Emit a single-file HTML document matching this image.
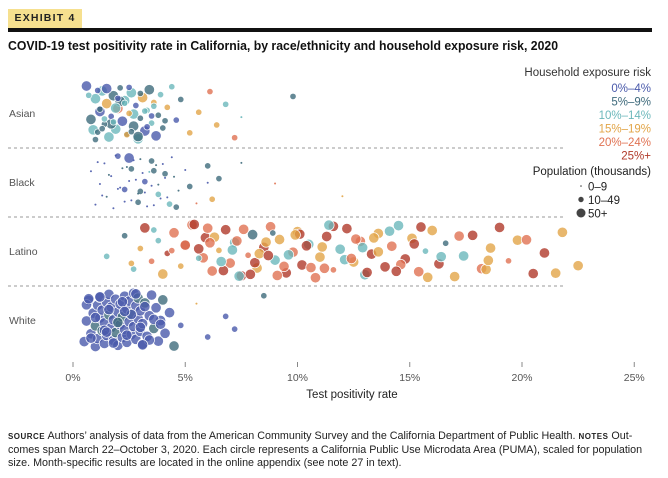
<!DOCTYPE html>
<html><head><meta charset="utf-8">
<style>
body{margin:0;background:#fff;font-family:"Liberation Sans",sans-serif;}
#wrap{position:relative;width:668px;height:478px;overflow:hidden;}
.badge{position:absolute;left:8px;top:9px;width:74px;height:19px;background:#f6e08f;font:bold 10.5px "Liberation Sans",sans-serif;letter-spacing:1.2px;line-height:19px;text-align:center;color:#222;}
.bar{position:absolute;left:8px;top:28px;width:644px;height:4px;background:#111;}
.title{position:absolute;left:8px;top:39px;font:bold 12.5px "Liberation Sans",sans-serif;color:#111;white-space:nowrap;transform:scaleX(0.98);transform-origin:left top;}
.src{position:absolute;left:8px;top:430px;font:10.8px "Liberation Sans",sans-serif;line-height:13.5px;color:#222;white-space:nowrap;transform:scaleX(0.995);transform-origin:left top;}
.src b{font-size:8px;letter-spacing:.5px;}
</style></head><body>
<div id="wrap">
<div class="badge">EXHIBIT 4</div>
<div class="bar"></div>
<div class="title">COVID-19 test positivity rate in California, by race/ethnicity and household exposure risk, 2020</div>
<svg id="svg" width="668" height="478" style="position:absolute;left:0;top:0"></svg>
<div class="src"><b>SOURCE</b> Authors’ analysis of data from the American Community Survey and the California Department of Public Health. <b>NOTES</b> Out-<br>comes span March 22–October 3, 2020. Each circle represents a California Public Use Microdata Area (PUMA), scaled for population<br>size. Month-specific results are located in the online appendix (see note 27 in text).</div>
</div>
<script>
const groups=["Asian","Black","Latino","White"];
const riskLabels=["0%–4%","5%–9%","10%–14%","15%–19%","20%–24%","25%+"];
const sizeLabels=["0–9","10–49","50+"];
const xTicks=[0,5,10,15,20,25];
const asianVals=[0.6,0.8,1.0,1.1,1.2,1.3,1.4,1.5,1.6,1.7,1.8,1.9,2.0,2.1,2.2,2.3,2.4,2.5,2.6,2.7,2.8,2.9,3.0,3.1,3.2,3.3,3.4,3.5,3.6,3.7,3.8,3.9,4.0,4.2,4.4,4.6,4.8,5.2,5.6,6.1,6.4,6.8,7.2,7.5,9.8,0.9,1.2,1.5,1.8,2.1,2.4,2.7,3.0,3.3,3.6,1.0,1.4,2.0,2.6,3.2,1.1,1.7,2.3,2.9,3.5,0.7,1.3,1.9,2.5,4.1];
const asianRisk=[0,1,2,1,0,2,1,3,2,0,1,2,4,1,0,2,1,3,2,1,0,2,1,3,0,2,1,2,3,0,1,2,1,3,2,0,1,3,3,4,3,2,4,2,1,2,1,0,2,1,3,2,1,0,2,1,2,0,1,2,0,1,2,1,0,2,1,2,0,1];
const asianSize=[2,2,2,1,2,2,1,2,2,1,2,2,2,1,2,2,1,1,2,2,1,2,1,2,2,1,2,1,1,2,1,1,1,1,1,1,1,1,1,1,1,1,1,0,1,2,1,2,1,2,1,2,1,1,1,1,1,1,1,1,1,2,1,2,1,1,1,2,1,1];
const blackVals=[0.8,1.0,1.2,1.4,1.5,1.7,1.9,2.0,2.2,2.3,2.5,2.7,2.9,3.1,3.3,3.5,3.7,3.9,4.1,4.4,4.7,5.0,5.5,6.0,1.1,1.3,1.6,1.8,2.1,2.4,2.6,2.8,3.0,3.2,3.4,3.6,3.8,4.0,4.2,4.5,2.0,2.3,2.6,2.9,3.2,3.5,3.8,4.1,4.6,5.2,6.0,6.2,6.5,2.5,3.0,3.6,4.3,9.0,7.5,12.0];
const blackRisk=[0,0,0,0,1,0,0,0,1,0,0,0,1,0,0,0,1,0,0,0,1,0,4,0,0,0,1,0,0,1,0,0,1,0,2,0,1,0,0,1,0,0,1,1,0,1,2,1,1,1,1,3,1,0,1,1,2,4,1,3];
const blackSize=[0,0,0,0,0,0,0,0,0,0,0,0,0,0,0,0,0,0,0,0,0,0,0,0,0,0,0,0,0,0,0,0,0,0,0,0,0,0,0,0,1,1,1,1,1,1,1,1,1,1,1,1,1,2,1,1,1,0,0,0];
const latinoVals=[1.5,2.3,2.7,3.0,3.2,3.5,3.8,4.0,4.2,4.5,4.8,5.0,5.3,5.6,5.9,6.2,6.5,6.8,7.0,7.2,7.5,7.8,8.0,8.2,8.5,8.8,9.0,9.2,9.5,9.8,10.0,10.2,10.5,10.8,11.0,11.3,11.6,11.9,12.2,12.5,12.8,13.0,13.3,13.6,13.9,14.2,14.5,14.8,15.1,15.4,15.7,16.0,16.3,16.6,17.0,17.4,17.8,18.2,18.6,19.0,19.4,19.8,20.5,21.0,21.8,22.5,5.0,5.4,5.8,6.3,6.7,7.1,7.6,8.1,8.6,9.1,9.6,10.1,10.6,11.1,11.6,12.1,12.6,13.1,13.6,14.1,14.6,15.2,15.8,16.4,17.2,18.4,5.6,6.0,6.6,7.3,7.9,8.3,8.9,9.4,10.4,11.4,12.4,13.4,14.4,4.4,3.6,2.6,6.1,7.4,8.7,9.9,11.2,12.9,15.5,18.5,20.2,21.5];
const latinoRisk=[2,1,2,3,5,4,2,3,5,4,3,5,4,2,5,4,3,5,4,2,5,4,1,3,5,4,2,3,5,4,3,5,2,4,3,5,4,2,5,3,4,2,5,3,5,4,2,5,3,4,2,3,5,1,3,2,5,4,3,5,4,3,5,5,3,3,4,5,4,3,5,2,4,5,3,4,2,5,4,3,5,2,4,5,3,2,4,5,3,2,4,3,5,4,2,4,5,3,1,4,5,2,4,3,5,4,2,3,4,2,5,3,4,2,5,3,4,3];
const latinoSize=[1,1,1,1,2,1,1,2,1,2,1,2,2,1,2,2,1,2,2,2,2,1,2,2,2,2,2,2,2,2,2,2,2,2,2,2,1,2,2,2,2,2,2,2,2,2,2,2,2,2,1,2,2,1,2,2,2,2,2,2,1,2,2,2,2,2,2,2,2,2,2,2,2,2,2,2,2,2,2,2,2,2,2,2,2,2,2,2,2,2,2,2,2,2,2,2,2,2,1,2,2,2,2,2,2,1,1,1,2,2,2,2,2,2,2,2,2,2];
const whiteVals=[0.5,0.6,0.7,0.8,0.9,1.0,1.0,1.1,1.1,1.2,1.2,1.3,1.3,1.4,1.4,1.5,1.5,1.6,1.6,1.7,1.7,1.8,1.8,1.9,1.9,2.0,2.0,2.1,2.1,2.2,2.2,2.3,2.3,2.4,2.4,2.5,2.5,2.6,2.6,2.7,2.7,2.8,2.8,2.9,2.9,3.0,3.0,3.1,3.1,3.2,3.3,3.4,3.5,3.6,3.7,3.8,3.9,4.0,4.1,4.3,4.5,4.8,0.6,0.8,1.0,1.2,1.4,1.6,1.8,2.0,2.2,2.4,2.6,2.8,3.0,3.2,3.4,3.6,0.7,1.5,2.3,3.1,3.9,5.5,6.0,6.8,8.5,7.2];
const whiteRisk=[0,0,0,0,0,0,1,0,0,0,0,1,0,0,0,0,0,1,0,0,0,0,0,0,1,0,0,0,0,0,1,0,0,0,0,0,0,0,1,0,0,0,0,0,1,0,0,0,0,1,0,0,0,1,0,0,0,1,0,0,1,0,0,0,0,0,0,0,0,1,0,0,0,0,0,0,0,0,0,0,0,0,0,3,0,0,1,0];
const whiteSize=[2,2,2,2,2,2,2,2,2,2,2,2,2,2,2,2,2,2,2,2,2,2,2,2,2,2,2,2,2,2,2,2,2,2,2,2,2,2,2,2,2,2,2,2,2,2,2,2,2,2,2,2,2,2,2,2,2,2,2,2,2,1,2,2,2,2,2,2,2,2,2,2,2,2,2,2,2,2,2,2,2,2,2,0,1,1,1,1];

const colors=["#4a5aab","#3f6b7c","#6cb8bb","#e2a548","#e07252","#b03a2a"];
const radii=[1,3.2,5.2];
const svg=document.getElementById('svg');
const NS="http://www.w3.org/2000/svg";
const FF='Liberation Sans, sans-serif';
const x=v=>73+v*22.45;
const rowY=i=>113+i*69;
function mk(tag,attrs,parent){const e=document.createElementNS(NS,tag);for(const k in attrs)e.setAttribute(k,attrs[k]);(parent||svg).appendChild(e);return e;}

[0,1,2].forEach(i=>{
  const l=mk('line',{x1:8,x2:563,y1:rowY(i)+35,y2:rowY(i)+35,stroke:'#999','stroke-width':1,'stroke-dasharray':'3,3'});
  
  
});
groups.forEach((g,i)=>{
  const t=mk('text',{x:9,y:rowY(i)+4,'font-size':10.5,fill:'#555','font-family':FF});
  t.textContent=g;
  
  
});
xTicks.forEach(v=>{
  const tk=mk('line',{x1:x(v),x2:x(v),y1:362,y2:367,stroke:'#888'});
  
  
  const t=mk('text',{x:x(v),y:381,'font-size':10.5,fill:'#555','text-anchor':'middle','font-family':FF});
  t.textContent=v+'%';
  
  
});
const at=mk('text',{x:352,y:398,'font-size':11.5,fill:'#222','text-anchor':'middle','font-family':FF});
at.textContent='Test positivity rate';



const data=[[asianVals,asianRisk,asianSize],[blackVals,blackRisk,blackSize],[latinoVals,latinoRisk,latinoSize],[whiteVals,whiteRisk,whiteSize]];
data.forEach((d,gi)=>{
  const [vals,risk,size]=d;
  const order=vals.map((v,i)=>i).sort((a,b)=>size[b]-size[a]);
  order.forEach(i=>{
    const off=(((i*0.618034+gi*0.3)%1)-0.5)*54;
    const c=mk('circle',{cx:x(vals[i]),cy:rowY(gi)+off,r:radii[size[i]],fill:colors[risk[i]],'fill-opacity':size[i]?0.8:0.9,stroke:size[i]?'#fff':'none','stroke-width':0.7});
    
    
  });
});

const lt=mk('text',{x:651,y:76,'font-size':11.5,fill:'#333','text-anchor':'end','font-family':FF});
lt.textContent='Household exposure risk';


riskLabels.forEach((r,i)=>{
  const t=mk('text',{x:651,y:92+i*13.5,'font-size':11.5,fill:colors[i],'text-anchor':'end','font-family':FF});
  t.textContent=r;
  
  
});
const pt=mk('text',{x:651,y:175,'font-size':11.5,fill:'#222','text-anchor':'end','font-family':FF});
pt.textContent='Population (thousands)';


sizeLabels.forEach((s,i)=>{
  const y=186+i*13.5;
  const c=mk('circle',{cx:581,cy:y,r:[0.8,2.7,4.5][i],fill:'#444'});
  
  
  const t=mk('text',{x:588,y:y+4.5,'font-size':11.5,fill:'#222','font-family':FF});
  t.textContent=s;
  
  
});
</script>
</body></html>
